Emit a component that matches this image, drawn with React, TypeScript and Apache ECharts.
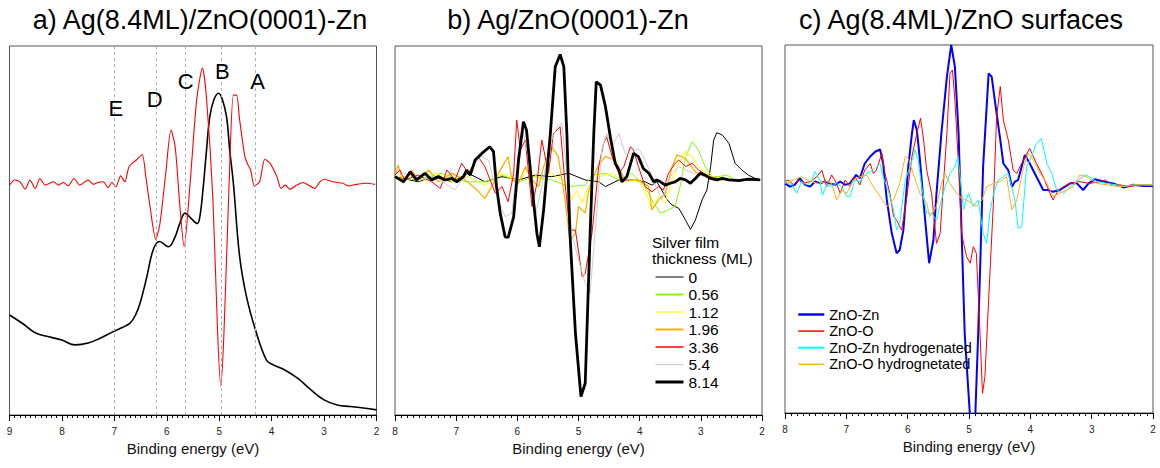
import React, { useEffect, useRef } from 'react';
import * as echarts from 'echarts';

const FONT = '"Liberation Sans", Arial, Helvetica, sans-serif';

// ---------- Panel a ----------
const aSpectrum = [[9.0,27.1],[8.75,24.8],[8.5,22.2],[8.25,21.2],[8.0,20.3],[7.75,19.0],[7.5,19.5],[7.27,20.8],[7.02,22.6],[6.85,23.7],[6.7,24.9],[6.6,27.0],[6.51,30.3],[6.38,37.5],[6.26,44.7],[6.14,47.0],[5.97,45.6],[5.85,48.0],[5.75,52.0],[5.65,54.7],[5.55,53.5],[5.42,51.9],[5.37,53.7],[5.31,61.0],[5.25,70.5],[5.18,80.8],[5.10,85.5],[5.01,87.2],[4.94,85.5],[4.86,80.8],[4.80,71.8],[4.73,62.8],[4.61,42.9],[4.48,32.1],[4.29,22.2],[4.10,14.9],[4.0,13.8],[3.75,12.2],[3.5,9.9],[3.25,6.8],[3.0,4.1],[2.75,2.7],[2.5,2.3],[2.25,1.9],[2.0,1.4]];
const aSecondDeriv = [[9.00,62.3],[8.90,63.7],[8.80,63.2],[8.70,61.2],[8.61,63.7],[8.51,61.4],[8.42,64.1],[8.32,62.3],[8.16,63.2],[8.07,62.3],[7.97,63.0],[7.88,62.1],[7.77,64.1],[7.66,62.3],[7.50,63.7],[7.40,62.5],[7.31,63.0],[7.21,63.2],[7.12,61.6],[7.05,63.0],[6.97,61.9],[6.88,64.8],[6.80,63.2],[6.72,67.3],[6.58,69.1],[6.47,70.6],[6.40,64.6],[6.32,56.5],[6.21,47.6],[6.13,51.9],[6.02,65.5],[5.92,77.2],[5.84,72.7],[5.75,56.5],[5.67,45.6],[5.56,61.9],[5.43,85.4],[5.32,94.0],[5.24,85.4],[5.12,58.3],[5.03,22.1],[4.97,7.9],[4.91,22.1],[4.80,67.3],[4.73,86.7],[4.67,86.7],[4.61,79.9],[4.51,70.0],[4.46,68.0],[4.40,66.4],[4.33,62.1],[4.23,63.2],[4.13,69.3],[4.03,68.2],[3.90,64.6],[3.82,61.4],[3.74,62.3],[3.65,61.2],[3.52,62.3],[3.40,63.0],[3.30,62.3],[3.18,61.4],[3.08,63.2],[2.99,63.9],[2.83,63.2],[2.64,62.8],[2.54,62.1],[2.38,62.5],[2.19,62.8],[2.03,62.5]];
const aPeakLines = [7.0, 6.2, 5.64, 4.96, 4.32];
const aPeakLabels = [[6.97,83.1,'E'],[6.23,85.4,'D'],[5.64,90.3,'C'],[4.94,93.0,'B'],[4.27,90.3,'A']];

// ---------- Panel b ----------
const bThickness = ['0','0.56','1.12','1.96','3.36','5.4','8.14'];
const bColors = ['#000000','#80ff00','#ffff00','#ffb000','#ff0000','#cccccc','#000000'];
const bWidths = [1,1,1,1.3,1,1,2.8];
const bLegendWidths = [1,2,1.2,2,1.5,1.2,3];
const b0 = [[8.00,64.6],[7.62,63.2],[7.35,64.6],[7.07,63.2],[6.80,65.5],[6.53,63.2],[6.25,64.6],[5.98,63.7],[5.71,65.0],[5.44,64.6],[5.16,65.5],[4.89,63.7],[4.67,63.2],[4.56,61.9],[4.34,63.7],[4.13,63.7],[3.91,63.2],[3.80,62.3],[3.72,63.2],[3.64,61.0],[3.55,58.3],[3.47,56.9],[3.36,56.0],[3.25,52.8],[3.17,50.3],[3.09,52.8],[2.98,58.3],[2.90,61.0],[2.84,67.3],[2.79,74.5],[2.74,76.5],[2.65,75.9],[2.54,73.6],[2.44,68.2],[2.33,66.4],[2.22,65.0],[2.11,64.1],[2.03,63.7]];
const b056 = [[8.00,64.1],[7.62,63.7],[7.24,65.5],[6.85,63.2],[6.53,63.2],[6.25,65.0],[5.98,63.2],[5.71,64.6],[5.44,63.7],[5.16,61.9],[4.89,62.3],[4.78,65.0],[4.56,65.5],[4.34,63.7],[4.13,65.5],[3.91,61.9],[3.80,58.3],[3.66,54.7],[3.53,55.6],[3.42,56.5],[3.34,61.9],[3.25,70.0],[3.14,74.1],[3.04,71.8],[2.93,67.3],[2.82,64.6],[2.71,64.6],[2.57,65.0],[2.44,63.7],[2.22,63.7],[2.03,63.7]];
const b112 = [[8.00,63.7],[7.78,65.0],[7.56,63.2],[7.35,65.5],[7.07,63.2],[6.80,64.6],[6.53,62.3],[6.25,65.5],[5.98,63.2],[5.82,66.4],[5.60,63.7],[5.44,65.5],[5.22,63.2],[5.11,58.3],[5.03,61.0],[4.94,57.4],[4.84,61.9],[4.67,64.6],[4.45,65.5],[4.24,63.2],[4.02,63.7],[3.85,58.3],[3.80,55.6],[3.69,59.2],[3.58,57.4],[3.47,63.7],[3.36,68.2],[3.25,71.4],[3.14,70.0],[3.04,67.3],[2.87,65.0],[2.71,64.1],[2.49,63.7],[2.22,63.9],[2.03,63.7]];
const b196 = [[8.00,64.6],[7.95,67.8],[7.86,62.8],[7.73,66.4],[7.62,63.7],[7.45,66.4],[7.29,63.2],[7.07,65.5],[6.85,63.7],[6.66,61.0],[6.53,58.7],[6.42,61.9],[6.31,65.5],[6.15,70.0],[6.09,63.7],[5.98,62.8],[5.87,67.3],[5.76,63.7],[5.65,61.9],[5.57,67.3],[5.44,72.7],[5.33,70.0],[5.22,58.3],[5.14,47.4],[5.05,49.2],[5.00,56.5],[4.89,54.7],[4.84,60.1],[4.78,63.7],[4.67,67.8],[4.56,70.0],[4.40,69.1],[4.24,63.7],[4.02,63.7],[3.85,61.9],[3.80,55.6],[3.69,58.3],[3.58,60.1],[3.47,67.3],[3.39,70.5],[3.31,70.0],[3.23,69.1],[3.09,65.9],[2.93,64.6],[2.71,63.7],[2.44,63.7],[2.03,63.7]];
const b336 = [[8.00,65.0],[7.92,66.4],[7.84,63.7],[7.62,65.0],[7.40,63.2],[7.26,61.4],[7.15,66.4],[7.02,63.7],[6.91,68.2],[6.80,65.5],[6.64,70.0],[6.53,67.3],[6.36,60.1],[6.25,61.9],[6.15,57.8],[6.06,65.5],[6.01,79.9],[5.95,71.8],[5.87,74.5],[5.76,56.5],[5.68,62.8],[5.60,74.5],[5.49,65.5],[5.41,76.3],[5.35,77.2],[5.30,78.1],[5.22,62.8],[5.14,50.1],[5.05,50.1],[4.94,37.5],[4.89,38.4],[4.78,49.2],[4.67,67.3],[4.59,73.6],[4.54,75.4],[4.45,70.0],[4.34,65.5],[4.26,67.3],[4.15,72.7],[4.10,71.8],[4.02,67.3],[3.91,61.9],[3.80,60.5],[3.69,61.9],[3.61,61.0],[3.53,65.5],[3.42,68.2],[3.36,69.1],[3.25,67.3],[3.14,68.2],[3.04,66.4],[2.87,64.6],[2.71,64.1],[2.49,63.7],[2.03,63.7]];
const b54 = [[8.00,63.7],[7.84,65.5],[7.62,63.7],[7.35,64.6],[7.02,61.0],[6.80,66.4],[6.58,70.0],[6.47,69.1],[6.31,58.3],[6.20,53.7],[6.09,54.7],[5.98,71.8],[5.90,76.3],[5.82,70.0],[5.71,53.7],[5.60,61.9],[5.46,73.6],[5.35,78.1],[5.27,79.0],[5.19,65.5],[5.11,49.2],[5.00,42.0],[4.89,35.7],[4.81,33.0],[4.73,49.2],[4.62,71.8],[4.54,76.3],[4.45,72.7],[4.34,76.3],[4.24,70.9],[4.13,70.9],[4.02,72.3],[3.91,69.1],[3.80,64.6],[3.64,58.3],[3.47,65.5],[3.36,67.3],[3.25,66.4],[3.12,65.5],[2.93,64.6],[2.71,64.1],[2.03,63.7]];
const b814 = [[8.00,64.6],[7.86,63.2],[7.75,65.9],[7.65,63.7],[7.51,65.5],[7.40,63.7],[7.29,64.6],[7.18,63.7],[7.07,64.1],[6.99,63.2],[6.88,64.6],[6.83,66.4],[6.77,65.0],[6.69,69.1],[6.58,70.9],[6.45,72.7],[6.39,71.4],[6.34,61.9],[6.28,54.7],[6.20,48.3],[6.15,48.1],[6.06,53.7],[5.98,69.1],[5.90,79.5],[5.85,77.2],[5.76,61.9],[5.68,49.2],[5.64,45.6],[5.57,55.6],[5.46,76.3],[5.38,94.4],[5.30,97.7],[5.24,94.4],[5.19,76.3],[5.14,49.2],[5.05,22.1],[4.96,5.0],[4.89,8.6],[4.81,49.2],[4.75,76.3],[4.71,90.3],[4.64,89.4],[4.56,83.6],[4.48,75.4],[4.40,68.2],[4.34,66.4],[4.29,63.2],[4.21,64.6],[4.10,70.9],[4.02,70.0],[3.94,66.8],[3.85,65.5],[3.77,63.2],[3.72,63.7],[3.66,63.2],[3.58,62.3],[3.50,62.8],[3.42,63.2],[3.34,64.1],[3.25,63.7],[3.17,62.8],[3.09,64.1],[3.01,65.5],[2.93,65.0],[2.84,64.1],[2.74,63.7],[2.65,64.1],[2.54,63.7],[2.38,63.5],[2.22,63.9],[2.03,63.7]];
const bSeriesData = [b0, b056, b112, b196, b336, b54, b814];

// ---------- Panel c ----------
const cNames = ['ZnO-Zn','ZnO-O','ZnO-Zn hydrogenated','ZnO-O hydrognetated'];
const cColors = ['#0000ff','#ff0000','#00ffff','#ffb020'];
const cWidths = [2,1,1,1];
const cLegendWidths = [2.5,1.5,2,1.5];
const cZnOZn = [[8.00,62.4],[7.92,61.5],[7.84,62.0],[7.76,63.8],[7.67,62.0],[7.59,61.5],[7.51,62.9],[7.43,62.4],[7.35,62.9],[7.27,62.4],[7.18,62.0],[7.10,62.9],[7.02,62.0],[6.94,62.4],[6.84,64.7],[6.78,63.8],[6.70,67.8],[6.61,69.7],[6.53,71.0],[6.45,71.6],[6.40,67.8],[6.34,57.9],[6.26,48.9],[6.18,43.4],[6.13,44.3],[6.07,49.7],[5.99,66.9],[5.93,76.0],[5.90,79.6],[5.85,76.9],[5.80,68.8],[5.72,53.4],[5.65,40.7],[5.58,47.0],[5.53,59.7],[5.45,76.0],[5.36,91.4],[5.29,100.0],[5.23,94.1],[5.17,76.0],[5.12,48.8],[5.07,21.6],[4.98,-1.9],[4.90,-1.9],[4.85,21.6],[4.77,66.9],[4.68,92.3],[4.63,91.4],[4.58,85.1],[4.49,74.2],[4.44,67.8],[4.36,66.0],[4.30,61.5],[4.25,62.9],[4.20,63.3],[4.09,70.1],[4.01,67.8],[3.90,64.2],[3.79,60.6],[3.71,60.6],[3.63,60.1],[3.52,60.6],[3.35,62.4],[3.24,62.4],[3.14,60.6],[3.05,62.4],[2.95,63.5],[2.81,62.9],[2.65,62.4],[2.48,61.3],[2.32,62.0],[2.16,61.7],[2.00,61.7]];
const cZnOO = [[8.00,62.9],[7.95,63.3],[7.86,62.0],[7.78,63.3],[7.70,62.4],[7.59,62.9],[7.48,64.2],[7.40,66.0],[7.32,61.5],[7.24,64.7],[7.16,62.4],[7.10,59.7],[7.02,63.3],[6.94,61.5],[6.86,64.2],[6.78,62.0],[6.70,66.0],[6.61,67.8],[6.56,65.1],[6.51,66.0],[6.42,70.6],[6.37,65.1],[6.29,59.7],[6.23,53.4],[6.18,52.4],[6.10,49.7],[6.02,57.9],[5.93,69.7],[5.85,76.0],[5.79,80.1],[5.74,74.2],[5.69,66.0],[5.61,59.7],[5.53,46.1],[5.47,48.8],[5.42,61.5],[5.36,76.0],[5.31,92.3],[5.27,93.2],[5.23,85.1],[5.17,66.9],[5.12,48.8],[5.04,42.5],[4.98,40.7],[4.93,45.2],[4.88,43.4],[4.82,21.6],[4.78,5.3],[4.74,9.9],[4.68,30.7],[4.60,57.9],[4.55,80.5],[4.49,88.7],[4.44,79.6],[4.36,74.2],[4.28,66.0],[4.22,65.1],[4.17,66.9],[4.11,68.8],[4.01,71.9],[3.90,67.8],[3.79,64.2],[3.68,59.7],[3.63,57.9],[3.54,60.6],[3.41,62.0],[3.33,62.4],[3.22,62.9],[3.03,62.4],[2.86,62.9],[2.78,63.3],[2.67,62.0],[2.54,62.0],[2.38,61.5],[2.21,62.0],[2.00,62.0]];
const cZnOZnH = [[8.00,62.9],[7.89,62.0],[7.81,59.7],[7.73,62.9],[7.65,62.0],[7.57,62.9],[7.51,65.6],[7.43,63.3],[7.39,59.2],[7.32,62.0],[7.24,61.5],[7.16,62.4],[7.08,61.5],[6.99,58.8],[6.94,58.8],[6.86,63.3],[6.78,62.9],[6.67,65.1],[6.56,66.0],[6.45,67.8],[6.40,64.2],[6.32,60.6],[6.23,55.2],[6.18,49.7],[6.13,51.5],[6.04,63.3],[5.96,66.9],[5.88,71.5],[5.83,68.8],[5.77,61.5],[5.69,54.3],[5.61,54.3],[5.53,52.4],[5.45,57.9],[5.39,61.5],[5.31,65.1],[5.23,66.9],[5.18,69.7],[5.15,65.1],[5.09,55.2],[5.01,59.7],[4.93,56.1],[4.85,57.9],[4.77,48.8],[4.71,46.1],[4.66,54.3],[4.60,59.7],[4.52,63.3],[4.44,64.2],[4.36,65.1],[4.25,57.9],[4.20,50.2],[4.14,50.6],[4.06,66.9],[3.98,69.7],[3.90,73.3],[3.82,74.6],[3.73,67.8],[3.65,65.1],[3.57,60.6],[3.46,59.7],[3.35,61.5],[3.24,62.9],[3.11,64.7],[3.03,64.2],[2.92,62.9],[2.76,62.4],[2.59,62.0],[2.48,61.5],[2.32,62.0],[2.16,62.0],[2.00,61.9]];
const cZnOOH = [[8.00,62.4],[7.86,63.3],[7.73,64.2],[7.59,62.9],[7.46,62.4],[7.32,62.9],[7.24,62.4],[7.16,57.9],[7.08,60.6],[6.99,59.7],[6.89,63.3],[6.78,64.2],[6.67,64.7],[6.56,61.5],[6.45,58.8],[6.34,56.1],[6.23,57.9],[6.13,62.4],[6.04,69.7],[5.99,69.2],[5.91,65.1],[5.80,59.7],[5.69,57.0],[5.64,53.4],[5.53,56.1],[5.45,62.4],[5.39,65.1],[5.31,62.4],[5.20,59.7],[5.12,58.3],[5.04,57.9],[4.96,57.0],[4.88,56.1],[4.79,57.9],[4.71,61.5],[4.60,62.4],[4.49,62.9],[4.39,64.2],[4.30,55.2],[4.22,57.9],[4.11,66.9],[4.03,70.6],[3.95,68.8],[3.84,65.1],[3.73,62.4],[3.63,58.8],[3.52,59.7],[3.41,60.6],[3.30,61.5],[3.19,64.7],[3.08,64.2],[2.92,62.4],[2.76,62.0],[2.54,61.5],[2.32,62.0],[2.00,62.0]];
const cSeriesData = [cZnOZn, cZnOO, cZnOZnH, cZnOOH];

const panelTitles = ['a) Ag(8.4ML)/ZnO(0001)-Zn', 'b) Ag/ZnO(0001)-Zn', 'c) Ag(8.4ML)/ZnO surfaces'];
const xMaxima = [9, 8, 8];
const axisTitle = 'Binding energy (eV)';
const bLegendTitle = 'Silver film\nthickness (ML)';

function makeXAxis(gridIndex: number, max: number) {
  return {
    type: 'value', gridIndex, min: 2, max, interval: 1, inverse: true,
    name: axisTitle, nameLocation: 'middle', nameGap: 23,
    nameTextStyle: { fontSize: 15, color: '#111', fontFamily: FONT },
    axisLine: { show: true, onZero: false, lineStyle: { color: '#000', width: 1 } },
    axisTick: { show: true, length: 6, lineStyle: { color: '#000', width: 1 } },
    minorTick: { show: true, splitNumber: 10, length: 3, lineStyle: { color: '#000', width: 1 } },
    axisLabel: { fontSize: 10, color: '#222', margin: 11, fontFamily: FONT, showMinLabel: true, showMaxLabel: true },
    splitLine: { show: false },
    minorSplitLine: { show: false },
  };
}
function makeYAxis(gridIndex: number) {
  return { type: 'value', gridIndex, min: 0, max: 100, show: false, splitLine: { show: false } };
}

export default function App() {
  const ref = useRef<HTMLDivElement>(null);
  useEffect(() => {
    const chart = echarts.init(ref.current!, null, { renderer: 'svg' });
    const series: any[] = [];
    series.push({
      type: 'line', name: 'spectrum', xAxisIndex: 0, yAxisIndex: 0, data: aSpectrum,
      symbol: 'none', smooth: 0.4, lineStyle: { color: '#000', width: 1.6 }, z: 3,
      markLine: {
        silent: true, symbol: ['none', 'none'], label: { show: false },
        lineStyle: { color: '#b0b0b0', type: [3, 3], width: 1 },
        data: aPeakLines.map((v) => ({ xAxis: v })),
      },
    });
    series.push({
      type: 'line', name: 'second derivative', xAxisIndex: 0, yAxisIndex: 0, data: aSecondDeriv,
      symbol: 'none', smooth: 0.25, lineStyle: { color: '#ff0000', width: 1.1 }, z: 4,
    });
    series.push({
      type: 'scatter', name: 'peaks', xAxisIndex: 0, yAxisIndex: 0, data: aPeakLabels,
      symbol: 'circle', symbolSize: 0, itemStyle: { color: '#000' }, silent: true, z: 5,
      label: { show: true, position: 'inside', formatter: (p: any) => p.value[2], fontSize: 22, color: '#000', fontFamily: FONT, opacity: 1 },
    });
    bSeriesData.forEach((d, i) => {
      series.push({
        type: 'line', name: bThickness[i], xAxisIndex: 1, yAxisIndex: 1, data: d,
        symbol: 'none', lineStyle: { color: bColors[i], width: bWidths[i] }, itemStyle: { color: bColors[i] },
      });
    });
    cSeriesData.forEach((d, i) => {
      series.push({
        type: 'line', name: cNames[i], xAxisIndex: 2, yAxisIndex: 2, data: d,
        symbol: 'none', lineStyle: { color: cColors[i], width: cWidths[i] }, itemStyle: { color: cColors[i] },
      });
    });

    const option: any = {
      animation: false,
      backgroundColor: '#fff',
      textStyle: { fontFamily: FONT },
      grid: [
        { left: 9.5, top: 46, width: 367, height: 369, show: true, borderColor: '#555', borderWidth: 1, containLabel: false },
        { left: 395, top: 46, width: 367, height: 369, show: true, borderColor: '#555', borderWidth: 1, containLabel: false },
        { left: 785, top: 45, width: 368, height: 368, show: true, borderColor: '#555', borderWidth: 1, containLabel: false },
      ],
      xAxis: [makeXAxis(0, xMaxima[0]), makeXAxis(1, xMaxima[1]), makeXAxis(2, xMaxima[2])],
      yAxis: [makeYAxis(0), makeYAxis(1), makeYAxis(2)],
      legend: [
        {
          data: bThickness.map((n, i) => ({ name: n, lineStyle: { width: bLegendWidths[i], color: bColors[i] } })),
          orient: 'vertical', left: 654, top: 269, padding: 0, itemWidth: 28, itemHeight: 14, itemGap: 1.5,
          itemStyle: { opacity: 0 },
          selectedMode: false, textStyle: { fontSize: 15.5, color: '#000', fontFamily: FONT, lineHeight: 15 },
        },
        {
          data: cNames.map((n, i) => ({ name: n, lineStyle: { width: cLegendWidths[i], color: cColors[i] } })),
          orient: 'vertical', left: 797, top: 307, padding: 0, itemWidth: 26, itemHeight: 14, itemGap: 1.6,
          itemStyle: { opacity: 0 },
          selectedMode: false, textStyle: { fontSize: 14.5, color: '#000', fontFamily: FONT, lineHeight: 14.5 },
        },
      ],
      graphic: [
        { type: 'text', x: 200, y: 20, style: { text: panelTitles[0], font: `27px ${FONT}`, fill: '#000', textAlign: 'center', textVerticalAlign: 'middle', align: 'center', verticalAlign: 'middle' } },
        { type: 'text', x: 568, y: 20, style: { text: panelTitles[1], font: `27px ${FONT}`, fill: '#000', textAlign: 'center', textVerticalAlign: 'middle', align: 'center', verticalAlign: 'middle' } },
        { type: 'text', x: 961, y: 20, style: { text: panelTitles[2], font: `27px ${FONT}`, fill: '#000', textAlign: 'center', textVerticalAlign: 'middle', align: 'center', verticalAlign: 'middle' } },
        { type: 'text', x: 652, y: 234, style: { text: bLegendTitle, font: `15.5px ${FONT}`, lineHeight: 16.5, fill: '#000', textAlign: 'left', textVerticalAlign: 'top', align: 'left', verticalAlign: 'top' } },
      ],
      series,
    };
    chart.setOption(option);
    return () => chart.dispose();
  }, []);
  return <div ref={ref} style={{ position: 'absolute', left: 0, top: 0, width: 1160, height: 468, background: '#fff' }} />;
}
